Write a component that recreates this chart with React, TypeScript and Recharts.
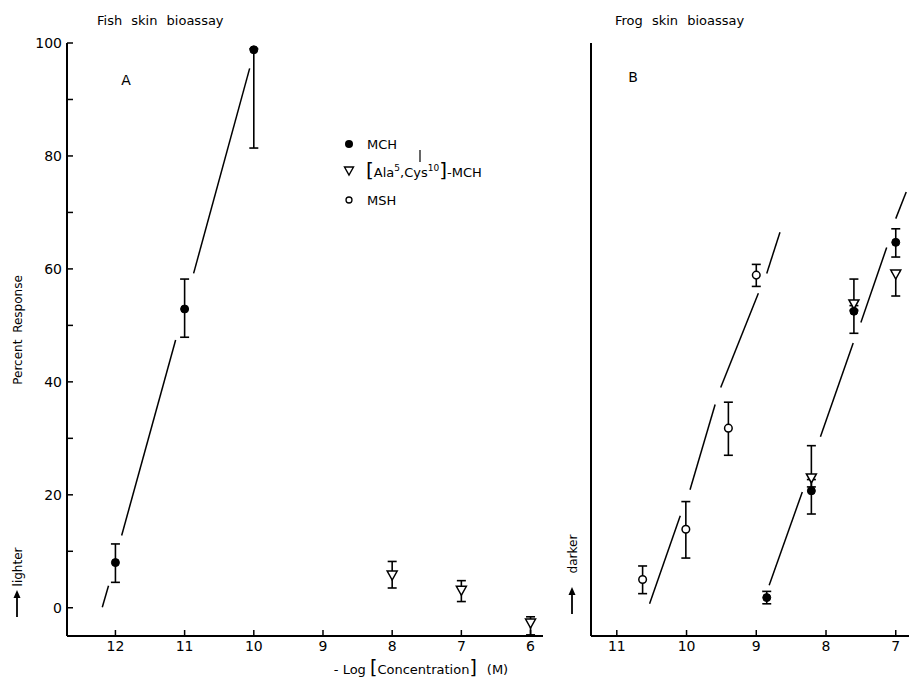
import React from 'react';
import { ComposedChart, Scatter, XAxis, YAxis, ErrorBar, ReferenceLine } from 'recharts';

// ---------- Panel A: fish skin bioassay ----------
const fishMchX = [12, 11, 10];
const fishMchY = [8.0, 52.9, 98.8];
const fishMchLow = [3.5, 5.0, 17.4];
const fishMchHigh = [3.3, 5.3, 0.2];

const fishAnalogX = [8, 7, 6];
const fishAnalogY = [5.7, 3.0, -2.8];
const fishAnalogLow = [2.2, 1.9, 2.0];
const fishAnalogHigh = [2.5, 1.8, 1.2];

// fitted line, drawn as broken segments (pairs of points)
const fishFitX = [12.19, 12.1, 11.91, 11.13, 10.87, 10.06];
const fishFitY = [0.1, 3.9, 12.8, 47.4, 59.2, 95.5];

// ---------- Panel B: frog skin bioassay ----------
const frogMshX = [10.63, 10.01, 9.4, 9.0];
const frogMshY = [5.0, 13.9, 31.8, 58.9];
const frogMshLow = [2.5, 5.1, 4.8, 2.0];
const frogMshHigh = [2.4, 4.9, 4.6, 1.9];

const frogMchX = [8.85, 8.21, 7.6, 7.0];
const frogMchY = [1.8, 20.7, 52.5, 64.7];
const frogMchLow = [1.1, 4.1, 3.9, 2.6];
const frogMchHigh = [1.1, 2.0, 1.0, 2.4];

const frogAnalogX = [8.21, 7.6, 7.0];
const frogAnalogY = [22.9, 53.7, 59.0];
const frogAnalogLow = [1.5, 1.0, 3.8];
const frogAnalogHigh = [5.8, 4.5, 0.5];

const frogMshFitX = [10.53, 10.09, 9.95, 9.59, 9.51, 8.97, 8.85, 8.66];
const frogMshFitY = [0.7, 16.3, 20.9, 36.0, 39.0, 55.7, 59.2, 66.5];

const frogMchFitX = [8.815, 8.34, 8.08, 7.61, 7.5, 7.13, 7.0, 6.85];
const frogMchFitY = [4.0, 20.5, 30.3, 46.9, 50.5, 63.8, 68.9, 73.6];

// ---------- ticks ----------
const yTicks = [0, 10, 20, 30, 40, 50, 60, 70, 80, 90, 100];
const fishXTicks = [12, 11, 10, 9, 8, 7, 6];
const frogXTicks = [11, 10, 9, 8, 7];

const FONT = '"DejaVu Sans", "Liberation Sans", sans-serif';

function rows(xs: number[], ys: number[], lo: number[], hi: number[]) {
  return xs.map((x, i) => ({ x, y: ys[i], err: [lo[i], hi[i]] }));
}
function segments(xs: number[], ys: number[]) {
  const out: { x: number; y: number }[][] = [];
  for (let i = 0; i + 1 < xs.length; i += 2) {
    out.push([
      { x: xs[i], y: ys[i] },
      { x: xs[i + 1], y: ys[i + 1] },
    ]);
  }
  return out;
}

const Dot = (p: any) => <circle cx={p.cx} cy={p.cy} r={4} fill="#000" stroke="#000" />;
const Ring = (p: any) => <circle cx={p.cx} cy={p.cy} r={3.8} fill="#fff" stroke="#000" strokeWidth={1.5} />;
const Tri = (p: any) => (
  <polygon
    points={`${p.cx - 5},${p.cy - 4.5} ${p.cx + 5},${p.cy - 4.5} ${p.cx},${p.cy + 4.5}`}
    fill="#fff"
    stroke="#000"
    strokeWidth={1.5}
  />
);

const axisLine = { stroke: '#000', strokeWidth: 2 };
const tickLine = { stroke: '#000', strokeWidth: 1.5 };
const tickStyle = { fill: '#000', fontSize: 14, fontFamily: FONT };

export default function App() {
  const fishMch = rows(fishMchX, fishMchY, fishMchLow, fishMchHigh);
  const fishAnalog = rows(fishAnalogX, fishAnalogY, fishAnalogLow, fishAnalogHigh);
  const frogMsh = rows(frogMshX, frogMshY, frogMshLow, frogMshHigh);
  const frogMch = rows(frogMchX, frogMchY, frogMchLow, frogMchHigh);
  const frogAnalog = rows(frogAnalogX, frogAnalogY, frogAnalogLow, frogAnalogHigh);

  const fishSegs = segments(fishFitX, fishFitY);
  const frogSegs = [...segments(frogMshFitX, frogMshFitY), ...segments(frogMchFitX, frogMchFitY)];

  const eb = () => <ErrorBar dataKey="err" direction="y" width={4.5} stroke="#000" strokeWidth={1.6} />;

  return (
    <div style={{ position: 'absolute', left: 0, top: 0, width: 909, height: 688, background: '#fff' }}>
      {/* Panel A */}
      <div style={{ position: 'absolute', left: 0, top: 0 }}>
        <ComposedChart width={560} height={688} margin={{ top: 43, right: 17, bottom: 12, left: 0 }}>
          <XAxis
            type="number"
            dataKey="x"
            domain={[5.82, 12.7]}
            reversed
            ticks={fishXTicks}
            allowDataOverflow
            height={40}
            axisLine={axisLine}
            tickLine={tickLine}
            tickSize={-6}
            tickMargin={11}
            tick={tickStyle}
            interval={0}
          />
          <YAxis
            type="number"
            dataKey="y"
            domain={[-5, 100]}
            ticks={yTicks}
            allowDataOverflow
            width={67}
            axisLine={axisLine}
            tickLine={tickLine}
            tickSize={-6}
            tickMargin={11}
            tick={tickStyle}
            interval={0}
            tickFormatter={(v: number) => (v % 20 === 0 ? String(v) : '')}
          />
          {fishSegs.map((s, i) => (
            <ReferenceLine key={i} segment={s} stroke="#000" strokeWidth={1.5} ifOverflow="visible" />
          ))}
          <Scatter data={fishMch} dataKey="y" shape={Dot} isAnimationActive={false}>
            {eb()}
          </Scatter>
          <Scatter data={fishAnalog} dataKey="y" shape={Tri} isAnimationActive={false}>
            {eb()}
          </Scatter>
        </ComposedChart>
      </div>

      {/* Panel B */}
      <div style={{ position: 'absolute', left: 560, top: 0 }}>
        <ComposedChart width={349} height={688} margin={{ top: 43, right: 0, bottom: 12, left: 0 }}>
          <XAxis
            type="number"
            dataKey="x"
            domain={[6.81, 11.37]}
            reversed
            ticks={frogXTicks}
            allowDataOverflow
            height={40}
            axisLine={axisLine}
            tickLine={tickLine}
            tickSize={-6}
            tickMargin={11}
            tick={tickStyle}
            interval={0}
          />
          <YAxis
            type="number"
            dataKey="y"
            domain={[-5, 100]}
            ticks={yTicks}
            allowDataOverflow
            width={31}
            axisLine={axisLine}
            tickLine={tickLine}
            tickSize={-6}
            tickMargin={11}
            tick={false}
            interval={0}
          />
          {frogSegs.map((s, i) => (
            <ReferenceLine key={i} segment={s} stroke="#000" strokeWidth={1.5} ifOverflow="visible" />
          ))}
          <Scatter data={frogMsh} dataKey="y" shape={Ring} isAnimationActive={false}>
            {eb()}
          </Scatter>
          <Scatter data={frogMch} dataKey="y" shape={Dot} isAnimationActive={false}>
            {eb()}
          </Scatter>
          <Scatter data={frogAnalog} dataKey="y" shape={Tri} isAnimationActive={false}>
            {eb()}
          </Scatter>
        </ComposedChart>
      </div>

      {/* Text overlay */}
      <svg
        width={909}
        height={688}
        style={{ position: 'absolute', left: 0, top: 0, pointerEvents: 'none' }}
        fontFamily={FONT}
      >
        <text x={97} y={25} fontSize={13} wordSpacing={5} fill="#000">Fish skin bioassay</text>
        <text x={615} y={25} fontSize={13} wordSpacing={5} fill="#000">Frog skin bioassay</text>
        <text x={126} y={85} fontSize={14} textAnchor="middle" fill="#000">A</text>
        <text x={633} y={82} fontSize={14} textAnchor="middle" fill="#000">B</text>

        {/* legend */}
        <circle cx={349} cy={144} r={4} fill="#000" />
        <text x={367} y={149} fontSize={13} fill="#000">MCH</text>
        <polygon points="344.5,167 353.5,167 349,175" fill="#fff" stroke="#000" strokeWidth={1.4} />
        <text x={366} y={177} fill="#000">
          <tspan fontSize={20}>[</tspan>
          <tspan fontSize={13}>Ala</tspan>
          <tspan fontSize={9} dy={-6}>5</tspan>
          <tspan fontSize={13} dy={6}>,Cys</tspan>
          <tspan fontSize={9} dy={-6}>10</tspan>
          <tspan fontSize={20} dy={6}>]</tspan>
          <tspan fontSize={13}>-MCH</tspan>
        </text>
        <line x1={420} y1={150} x2={420} y2={162} stroke="#000" strokeWidth={1.2} />
        <circle cx={349} cy={200} r={3} fill="#fff" stroke="#000" strokeWidth={1.3} />
        <text x={367} y={205} fontSize={13} fill="#000">MSH</text>

        {/* y-axis titles */}
        <text transform="translate(22,330) rotate(-90)" fontSize={12} textAnchor="middle" wordSpacing={3} fill="#000">
          Percent Response
        </text>
        <text transform="translate(22,567) rotate(-90)" fontSize={12} textAnchor="middle" fill="#000">lighter</text>
        <line x1={17} y1={617} x2={17} y2={594} stroke="#000" strokeWidth={1.8} />
        <polygon points="17,590 13.5,598 20.5,598" fill="#000" />
        <text transform="translate(577,554) rotate(-90)" fontSize={12} textAnchor="middle" fill="#000">darker</text>
        <line x1={572} y1={614} x2={572} y2={591} stroke="#000" strokeWidth={1.8} />
        <polygon points="572,587 568.5,595 575.5,595" fill="#000" />

        {/* x-axis title */}
        <text x={421} y={674} fontSize={13} textAnchor="middle" fill="#000">
          <tspan>- Log </tspan>
          <tspan fontSize={19}>[</tspan>
          <tspan>Concentration</tspan>
          <tspan fontSize={19}>]</tspan>
          <tspan dx={10}>(M)</tspan>
        </text>
      </svg>
    </div>
  );
}
